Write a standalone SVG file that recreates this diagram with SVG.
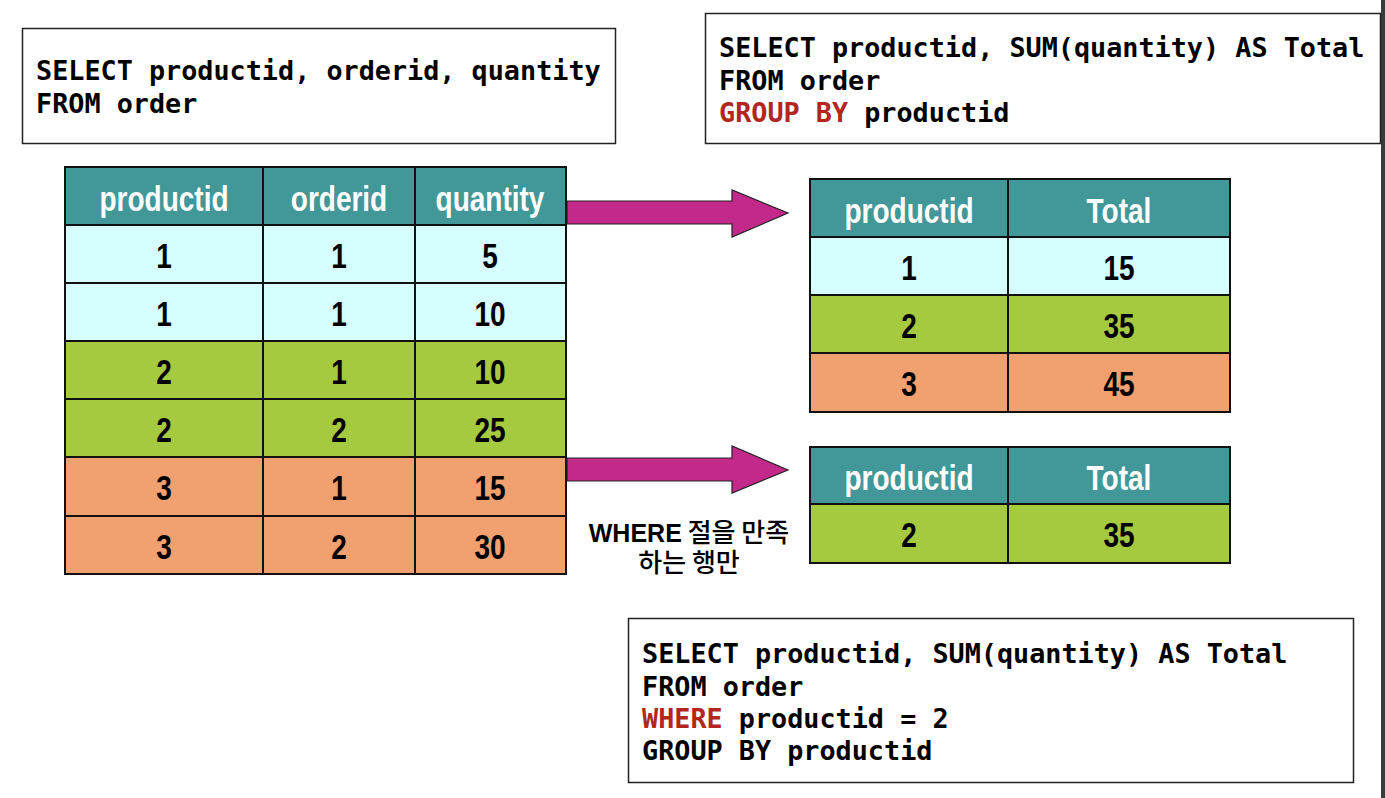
<svg xmlns="http://www.w3.org/2000/svg" width="1385" height="798" viewBox="0 0 1385 798">
<style>
.box{fill:#fff;stroke:#222;stroke-width:1.5}
.sql{font-family:"DejaVu Sans Mono","Liberation Mono",monospace;font-weight:bold;font-size:26.8px;fill:#000}
.kw{fill:#b3261e}
.hd{fill:#429898}
.c1{fill:#d6fefe}
.c2{fill:#a5c93f}
.c3{fill:#f1a070}
.grid{fill:none;stroke:#111;stroke-width:2}
.th{font-family:"Liberation Sans",Arial,sans-serif;font-weight:bold;font-size:35px;fill:#fff;text-anchor:middle}
.td{font-family:"Liberation Sans",Arial,sans-serif;font-weight:bold;font-size:35px;fill:#000;text-anchor:middle}
.arrow{fill:#c2298a;stroke:#222;stroke-width:1.2}
.note{font-family:"Noto Sans CJK KR","Liberation Sans",sans-serif;font-size:26px;font-weight:500;fill:#000;text-anchor:middle}
</style>
<rect x="0" y="0" width="1385" height="798" fill="#fff"/>
<rect x="1381" y="0" width="4" height="798" fill="#3a3a3a"/>

<g id="sql-select">
<rect class="box" x="22.5" y="28.5" width="593" height="115"/>
<text class="sql" x="36" y="80">SELECT productid, orderid, quantity</text>
<text class="sql" x="36" y="113">FROM order</text>
</g>

<g id="sql-groupby">
<rect class="box" x="705.5" y="13.5" width="675" height="130"/>
<text class="sql" x="719" y="57">SELECT productid, SUM(quantity) AS Total</text>
<text class="sql" x="719" y="90">FROM order</text>
<text class="sql" x="719" y="122"><tspan class="kw">GROUP BY</tspan> productid</text>
</g>

<g id="sql-where">
<rect class="box" x="628.5" y="618.5" width="725" height="164"/>
<text class="sql" x="642" y="663">SELECT productid, SUM(quantity) AS Total</text>
<text class="sql" x="642" y="696">FROM order</text>
<text class="sql" x="642" y="728"><tspan class="kw">WHERE</tspan> productid = 2</text>
<text class="sql" x="642" y="760">GROUP BY productid</text>
</g>

<g id="table-order">
<rect class="hd" x="65" y="167" width="501" height="58"/>
<rect class="c1" x="65" y="225" width="501" height="116"/>
<rect class="c2" x="65" y="341" width="501" height="116"/>
<rect class="c3" x="65" y="457" width="501" height="117"/>
<path class="grid" d="M65 167H566V574H65Z M263 167V574 M415 167V574 M65 225H566 M65 283H566 M65 341H566 M65 399H566 M65 457H566 M65 516H566"/>
<text class="th" transform="translate(164,210.5) scale(0.8,1)">productid</text>
<text class="th" transform="translate(339,210.5) scale(0.8,1)">orderid</text>
<text class="th" transform="translate(490,210.5) scale(0.8,1)">quantity</text>
<text class="td" transform="translate(164,267.5) scale(0.8,1)">1</text>
<text class="td" transform="translate(339,267.5) scale(0.8,1)">1</text>
<text class="td" transform="translate(490,267.5) scale(0.8,1)">5</text>
<text class="td" transform="translate(164,325.5) scale(0.8,1)">1</text>
<text class="td" transform="translate(339,325.5) scale(0.8,1)">1</text>
<text class="td" transform="translate(490,325.5) scale(0.8,1)">10</text>
<text class="td" transform="translate(164,383.5) scale(0.8,1)">2</text>
<text class="td" transform="translate(339,383.5) scale(0.8,1)">1</text>
<text class="td" transform="translate(490,383.5) scale(0.8,1)">10</text>
<text class="td" transform="translate(164,441.5) scale(0.8,1)">2</text>
<text class="td" transform="translate(339,441.5) scale(0.8,1)">2</text>
<text class="td" transform="translate(490,441.5) scale(0.8,1)">25</text>
<text class="td" transform="translate(164,500) scale(0.8,1)">3</text>
<text class="td" transform="translate(339,500) scale(0.8,1)">1</text>
<text class="td" transform="translate(490,500) scale(0.8,1)">15</text>
<text class="td" transform="translate(164,558.5) scale(0.8,1)">3</text>
<text class="td" transform="translate(339,558.5) scale(0.8,1)">2</text>
<text class="td" transform="translate(490,558.5) scale(0.8,1)">30</text>
</g>

<g id="table-groupby">
<rect class="hd" x="810" y="179" width="420" height="58"/>
<rect class="c1" x="810" y="237" width="420" height="58"/>
<rect class="c2" x="810" y="295" width="420" height="58"/>
<rect class="c3" x="810" y="353" width="420" height="59"/>
<path class="grid" d="M810 179H1230V412H810Z M1008 179V412 M810 237H1230 M810 295H1230 M810 353H1230"/>
<text class="th" transform="translate(909,222.5) scale(0.8,1)">productid</text>
<text class="th" transform="translate(1119,222.5) scale(0.8,1)">Total</text>
<text class="td" transform="translate(909,279.5) scale(0.8,1)">1</text>
<text class="td" transform="translate(1119,279.5) scale(0.8,1)">15</text>
<text class="td" transform="translate(909,337.5) scale(0.8,1)">2</text>
<text class="td" transform="translate(1119,337.5) scale(0.8,1)">35</text>
<text class="td" transform="translate(909,396) scale(0.8,1)">3</text>
<text class="td" transform="translate(1119,396) scale(0.8,1)">45</text>
</g>

<g id="table-where">
<rect class="hd" x="810" y="447" width="420" height="57"/>
<rect class="c2" x="810" y="504" width="420" height="59"/>
<path class="grid" d="M810 447H1230V563H810Z M1008 447V563 M810 504H1230"/>
<text class="th" transform="translate(909,490) scale(0.8,1)">productid</text>
<text class="th" transform="translate(1119,490) scale(0.8,1)">Total</text>
<text class="td" transform="translate(909,547) scale(0.8,1)">2</text>
<text class="td" transform="translate(1119,547) scale(0.8,1)">35</text>
</g>

<g id="connectors">
<path class="arrow" d="M567 201H732V190L788 213L732 237V224H567Z"/>
<path class="arrow" d="M567 458H732V446L788 470L732 493V481H567Z"/>
</g>

<g id="label-where">
<text class="note"><tspan x="689" y="542"><tspan font-family="'Liberation Sans',Arial,sans-serif" font-weight="bold" font-size="25px">WHERE</tspan> 절을 만족</tspan><tspan x="689" y="572">하는 행만</tspan></text>
</g>
</svg>
